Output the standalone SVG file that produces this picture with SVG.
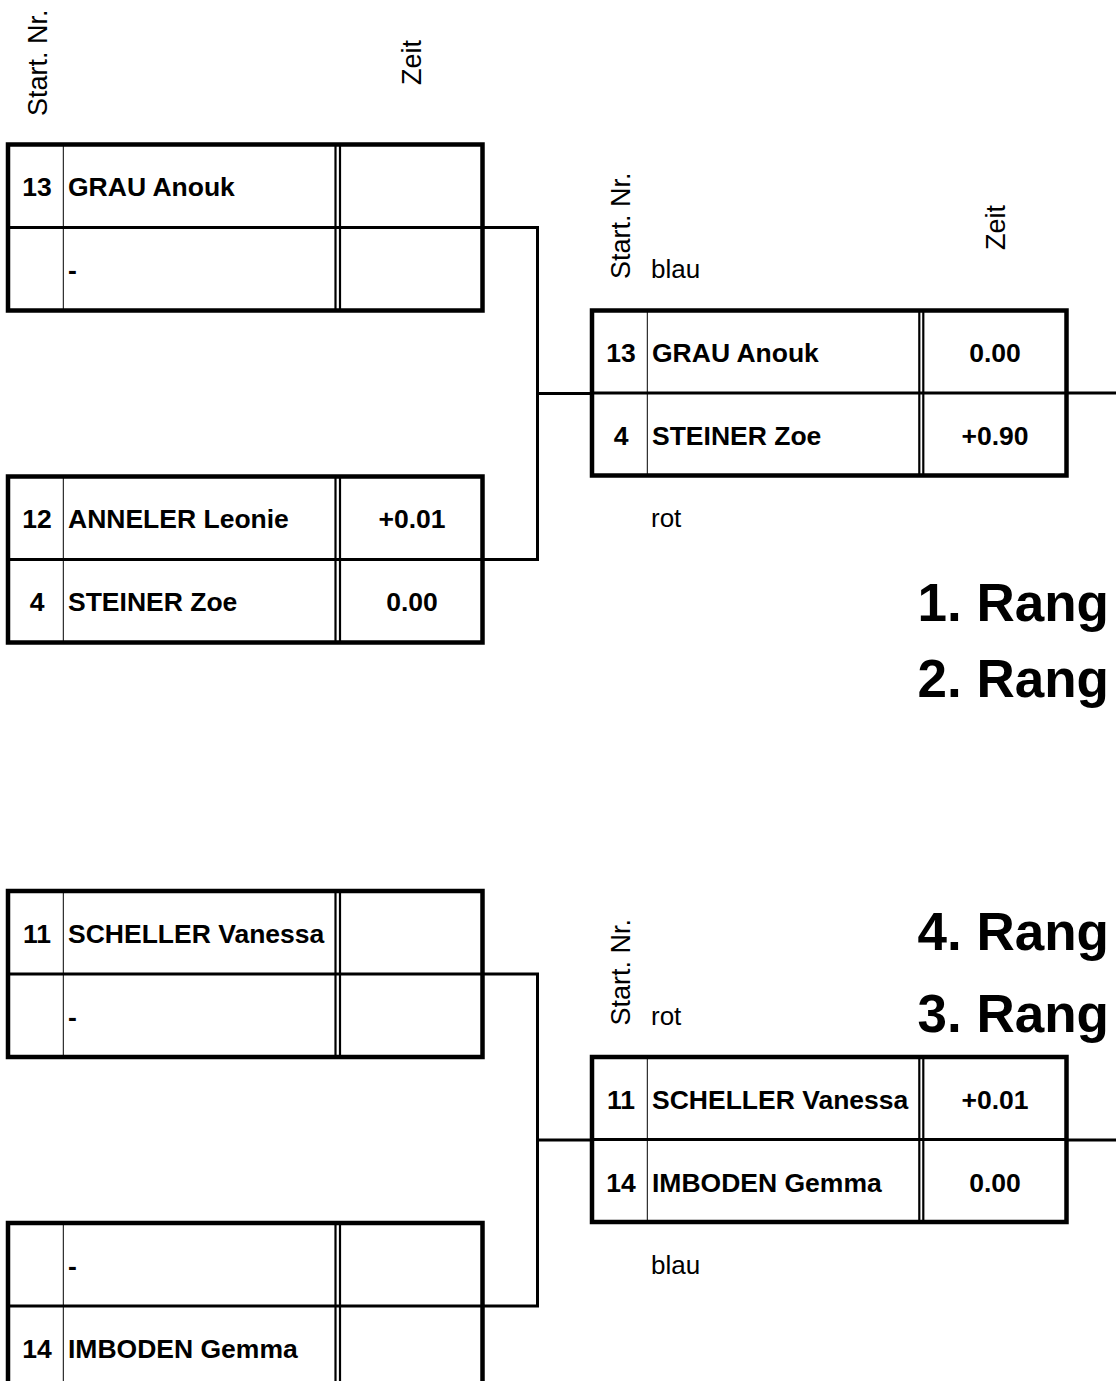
<svg xmlns="http://www.w3.org/2000/svg" width="1116" height="1381" viewBox="0 0 1116 1381">
<style>
.t{font-family:"Liberation Sans",Arial,sans-serif;fill:#000}
.b{font-weight:bold;font-size:26.5px}
.r{font-size:26px}
.h{font-size:27px}
.rank{font-family:"Liberation Sans",Arial,sans-serif;font-weight:bold;font-size:53px;text-anchor:end}
.m{text-anchor:middle}
.frame{fill:none;stroke:#000;stroke-width:4.5}
.row{stroke:#000;stroke-width:3}
.col{stroke:#000;stroke-width:1}
.dbl{stroke:#000;stroke-width:2.2}
.con{fill:none;stroke:#000;stroke-width:3}
</style>
<rect width="1116" height="1381" fill="#fff"/>
<g id="connectors">
<path class="con" d="M482.5,227.5 H537.5 V559.5 H482.5"/>
<path class="con" d="M537.5,393.5 H592"/>
<path class="con" d="M1066,393 H1116"/>
<path class="con" d="M482.5,974 H537.5 V1306 H482.5"/>
<path class="con" d="M537.5,1140 H592"/>
<path class="con" d="M1066,1140 H1116"/>
</g>
<g id="headers" class="t">
<text class="h" transform="translate(46.5,116) rotate(-90)">Start. Nr.</text>
<text class="h" transform="translate(421,85) rotate(-90)">Zeit</text>
<text class="h" transform="translate(630,279) rotate(-90)">Start. Nr.</text>
<text class="h" transform="translate(1005,250) rotate(-90)">Zeit</text>
<text class="r" x="651" y="278">blau</text>
<text class="r" x="651" y="527">rot</text>
<text class="h" transform="translate(630,1025.5) rotate(-90)">Start. Nr.</text>
<text class="r" x="651" y="1025">rot</text>
<text class="r" x="651" y="1274">blau</text>
</g>
<g id="ranks">
<text class="rank" x="1109" y="621">1. Rang</text>
<text class="rank" x="1109" y="697">2. Rang</text>
<text class="rank" x="1109" y="950">4. Rang</text>
<text class="rank" x="1109" y="1032">3. Rang</text>
</g>
<g id="boxA">
<rect class="frame" x="8" y="144.5" width="474.5" height="166"/>
<line class="row" x1="8" y1="227.5" x2="482.5" y2="227.5"/>
<line class="col" x1="63.3" y1="144.5" x2="63.3" y2="310.5"/>
<line class="dbl" x1="335.5" y1="144.5" x2="335.5" y2="310.5"/>
<line class="dbl" x1="340" y1="144.5" x2="340" y2="310.5"/>
<text class="t b m" x="37" y="196">13</text>
<text class="t b" x="68" y="196">GRAU Anouk</text>
<text class="t b" x="68" y="279">-</text>
</g>
<g id="boxB">
<rect class="frame" x="8" y="476.5" width="474.5" height="166"/>
<line class="row" x1="8" y1="559.5" x2="482.5" y2="559.5"/>
<line class="col" x1="63.3" y1="476.5" x2="63.3" y2="642.5"/>
<line class="dbl" x1="335.5" y1="476.5" x2="335.5" y2="642.5"/>
<line class="dbl" x1="340" y1="476.5" x2="340" y2="642.5"/>
<text class="t b m" x="37" y="528">12</text>
<text class="t b" x="68" y="528">ANNELER Leonie</text>
<text class="t b m" x="412" y="528">+0.01</text>
<text class="t b m" x="37" y="611">4</text>
<text class="t b" x="68" y="611">STEINER Zoe</text>
<text class="t b m" x="412" y="611">0.00</text>
</g>
<g id="boxR1">
<rect class="frame" x="592" y="310.5" width="474.5" height="165"/>
<line class="row" x1="592" y1="393" x2="1066.5" y2="393"/>
<line class="col" x1="647.3" y1="310.5" x2="647.3" y2="475.5"/>
<line class="dbl" x1="919.3" y1="310.5" x2="919.3" y2="475.5"/>
<line class="dbl" x1="923.3" y1="310.5" x2="923.3" y2="475.5"/>
<text class="t b m" x="621" y="362">13</text>
<text class="t b" x="652" y="362">GRAU Anouk</text>
<text class="t b m" x="995" y="362">0.00</text>
<text class="t b m" x="621" y="445">4</text>
<text class="t b" x="652" y="445">STEINER Zoe</text>
<text class="t b m" x="995" y="445">+0.90</text>
</g>
<g id="boxC">
<rect class="frame" x="8" y="891" width="474.5" height="166"/>
<line class="row" x1="8" y1="974" x2="482.5" y2="974"/>
<line class="col" x1="63.3" y1="891" x2="63.3" y2="1057"/>
<line class="dbl" x1="335.5" y1="891" x2="335.5" y2="1057"/>
<line class="dbl" x1="340" y1="891" x2="340" y2="1057"/>
<text class="t b m" x="37" y="942.5">11</text>
<text class="t b" x="68" y="942.5">SCHELLER Vanessa</text>
<text class="t b" x="68" y="1025.5">-</text>
</g>
<g id="boxD">
<rect class="frame" x="8" y="1223" width="474.5" height="166"/>
<line class="row" x1="8" y1="1306" x2="482.5" y2="1306"/>
<line class="col" x1="63.3" y1="1223" x2="63.3" y2="1389"/>
<line class="dbl" x1="335.5" y1="1223" x2="335.5" y2="1389"/>
<line class="dbl" x1="340" y1="1223" x2="340" y2="1389"/>
<text class="t b" x="68" y="1274.5">-</text>
<text class="t b m" x="37" y="1357.5">14</text>
<text class="t b" x="68" y="1357.5">IMBODEN Gemma</text>
</g>
<g id="boxR2">
<rect class="frame" x="592" y="1057" width="474.5" height="165"/>
<line class="row" x1="592" y1="1139.5" x2="1066.5" y2="1139.5"/>
<line class="col" x1="647.3" y1="1057" x2="647.3" y2="1222"/>
<line class="dbl" x1="919.3" y1="1057" x2="919.3" y2="1222"/>
<line class="dbl" x1="923.3" y1="1057" x2="923.3" y2="1222"/>
<text class="t b m" x="621" y="1108.5">11</text>
<text class="t b" x="652" y="1108.5">SCHELLER Vanessa</text>
<text class="t b m" x="995" y="1108.5">+0.01</text>
<text class="t b m" x="621" y="1191.5">14</text>
<text class="t b" x="652" y="1191.5">IMBODEN Gemma</text>
<text class="t b m" x="995" y="1191.5">0.00</text>
</g>
</svg>
